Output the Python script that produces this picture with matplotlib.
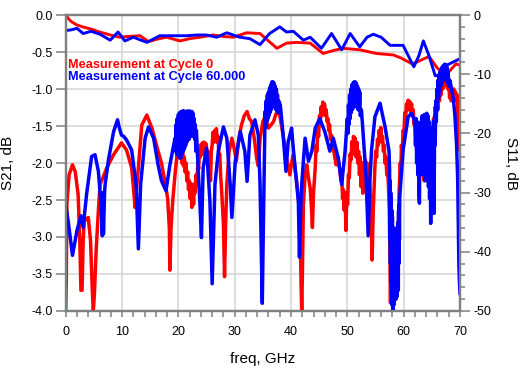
import matplotlib
matplotlib.use("Agg")
import matplotlib.pyplot as plt
from matplotlib.ticker import MultipleLocator, FormatStrFormatter

plt.rcParams['font.family'] = ['Liberation Sans', 'DejaVu Sans']
plt.rcParams['axes.unicode_minus'] = False

# S21, dB (left axis) as (freq GHz, value)
s21_cycle0 = [
    (0, 0.0), (0.5, -0.05), (1.0, -0.09), (2.0, -0.135), (3.0, -0.16), (4.0, -0.18),
    (4.9, -0.2), (6.0, -0.23), (7.0, -0.25), (7.9, -0.27), (9.6, -0.30), (11.0, -0.29),
    (13.2, -0.28), (14.7, -0.36), (16.0, -0.33), (17.9, -0.30), (20.3, -0.35), (22.0, -0.32),
    (23.8, -0.30), (26.2, -0.27), (28.0, -0.29), (29.8, -0.30), (32.1, -0.24), (34.5, -0.25),
    (36.0, -0.35), (37.5, -0.45), (39.2, -0.38), (41.0, -0.37), (43.4, -0.38), (45.7, -0.52),
    (47.5, -0.48), (49.3, -0.45), (52.2, -0.47), (55.2, -0.52), (58.2, -0.54), (59.5, -0.58),
    (61.5, -0.66), (62.5, -0.63), (64.5, -0.56), (66.0, -0.72), (67.0, -0.78), (68.0, -0.77),
    (69.3, -0.66), (70.0, -0.68)]

s21_cycle60 = [
    (0, -0.21), (1.0, -0.2), (2.0, -0.18), (3.1, -0.25), (4.5, -0.22), (6.1, -0.26),
    (7.9, -0.34), (9.3, -0.23), (10.5, -0.35), (12.0, -0.30), (14.4, -0.37), (16.7, -0.28),
    (19.0, -0.28), (21.5, -0.28), (23.3, -0.27), (25.0, -0.27), (26.8, -0.30), (28.6, -0.24),
    (30.9, -0.30), (32.7, -0.32), (34.5, -0.40), (36.2, -0.25), (38.0, -0.16), (39.2, -0.23),
    (40.4, -0.22), (42.2, -0.34), (43.4, -0.30), (45.4, -0.45), (47.2, -0.25), (49.0, -0.47),
    (50.5, -0.25), (52.2, -0.43), (53.5, -0.30), (54.6, -0.26), (56.0, -0.30), (57.6, -0.41),
    (59.9, -0.41), (61.8, -0.70), (62.7, -0.55), (63.5, -0.35), (64.5, -0.55), (65.6, -0.82),
    (66.5, -0.82), (67.6, -0.68), (70.0, -0.59)]

# S11, dB (right axis) as (freq GHz, value)
s11_cycle0 = [
    (0.0, -50), (0.1, -45), (0.2, -32), (0.6, -27), (1.2, -25.3), (1.7, -26.5), (2.2, -30.3),
    (2.5, -38), (2.7, -46.5), (2.9, -46.5), (3.1, -38), (3.3, -34.8), (4.0, -34.2), (4.4, -38),
    (4.7, -46), (4.9, -50), (5.1, -47), (5.4, -39.8), (5.8, -33), (6.1, -28.6), (6.6, -27.5),
    (7.3, -25.8), (8.5, -23.6), (9.9, -21.6), (10.8, -22.8), (11.7, -25.8), (12.1, -30),
    (12.3, -32.5), (12.6, -29), (12.9, -25.8), (13.5, -18.6), (14.4, -16.9), (15.3, -19.1),
    (16.4, -23.0), (17.0, -25), (17.6, -28.1), (18.1, -31), (18.4, -36), (18.5, -43.1),
    (18.7, -36), (19.0, -31.4), (19.4, -27),
    (19.7, -24.2), (19.85, -22.3), (20.0, -24), (20.15, -22), (20.3, -23.8), (20.45, -22.5),
    (20.6, -25), (20.75, -23), (20.9, -25.5), (21.05, -24), (21.2, -26.5), (21.35, -25),
    (21.5, -28), (21.65, -26.5), (21.8, -29.5), (21.95, -28), (22.1, -31), (22.25, -28.5),
    (22.4, -32.5), (22.55, -29), (22.7, -32), (22.85, -28.5), (23.0, -30), (23.15, -27),
    (23.3, -28.5), (23.45, -25), (23.6, -26), (23.75, -23), (23.9, -24), (24.05, -21.8),
    (24.2, -23.5), (24.35, -21.5), (24.5, -23.5), (24.65, -21.5), (24.8, -23), (24.95, -21.8),
    (25.1, -24), (25.25, -23), (25.4, -27), (25.55, -25), (25.7, -28), (25.85, -23),
    (26.0, -22), (26.15, -19.8), (26.3, -21.5), (26.45, -19.5), (26.6, -21), (26.75, -19.2),
    (26.9, -21.5), (27.05, -20.5), (27.2, -24), (27.35, -23.5), (27.5, -27), (27.7, -30),
    (28.0, -35.3), (28.2, -44.2), (28.4, -35), (28.6, -28.6), (29.0, -23), (29.5, -20.8),
    (29.9, -22.5), (30.3, -24.7), (30.7, -21), (31.2, -18.6), (31.7, -17), (32.2, -16.3),
    (32.6, -17.5), (33.0, -18.0), (33.5, -21), (33.9, -24.2), (34.2, -25.5), (34.5, -21),
    (35.0, -18), (35.4, -17.2), (36.0, -19.1), (36.5, -18.5), (36.9, -18.0), (37.3, -16.8),
    (37.6, -16.1), (38.0, -17), (38.3, -18.6), (38.8, -21.5), (39.2, -24.2), (39.8, -27.0),
    (40.1, -25), (40.4, -23.6), (40.7, -26), (41.0, -28.1), (41.4, -32), (41.6, -35.3),
    (41.8, -46), (41.9, -50), (42.0, -45), (42.2, -32.0), (42.5, -27), (42.8, -25.3),
    (43.1, -27.5), (43.4, -29.2), (43.6, -32), (43.8, -35.9), (44.0, -30),
    (44.3, -25.8), (44.45, -22), (44.6, -23), (44.75, -19.5), (44.9, -20.5), (45.05, -17),
    (45.2, -18), (45.35, -15.5), (45.5, -17), (45.65, -14.7), (45.8, -16.5), (45.95, -15),
    (46.1, -17), (46.25, -16), (46.4, -18), (46.55, -17.5), (46.7, -19.5), (46.85, -18.5),
    (47.0, -21), (47.2, -20.3), (47.6, -23), (48.0, -25.3), (48.3, -24),
    (48.7, -26.4), (48.85, -28), (49.0, -27), (49.15, -31), (49.3, -29.5), (49.45, -33),
    (49.6, -30), (49.75, -36.4), (49.9, -31), (50.05, -32), (50.2, -27), (50.35, -27.5),
    (50.5, -23.5), (50.65, -24.5), (50.8, -21.4), (50.95, -23.5), (51.1, -20.5), (51.25, -23),
    (51.4, -20.8), (51.55, -24), (51.7, -21.5), (51.85, -25), (52.0, -23), (52.15, -27),
    (52.3, -24), (52.45, -29), (52.6, -25), (52.75, -30.1), (52.9, -25.5), (53.05, -28),
    (53.2, -24.5), (53.35, -27), (53.5, -25), (53.65, -28.5), (53.8, -27), (54.0, -29),
    (54.2, -33), (54.4, -41.4), (54.6, -33), (54.9, -25.6),
    (55.05, -23), (55.2, -24), (55.35, -21), (55.5, -22), (55.65, -19.5), (55.8, -20.5),
    (55.95, -19), (56.1, -21.5), (56.25, -20.5), (56.4, -23), (56.55, -22), (56.7, -25),
    (56.85, -24), (57.0, -27), (57.15, -26), (57.3, -29), (57.45, -33), (57.55, -40),
    (57.65, -48.6), (57.8, -42), (57.9, -36), (58.0, -44), (58.1, -38), (58.2, -46),
    (58.3, -39), (58.4, -45), (58.5, -39.7), (58.6, -44), (58.7, -46), (58.8, -47.6),
    (59.0, -38), (59.2, -29.6), (59.4, -25), (59.5, -27), (59.6, -22), (59.75, -23.5),
    (59.9, -19.5), (60.05, -20), (60.2, -16.5), (60.35, -17.5), (60.5, -15), (60.65, -16),
    (60.8, -14.4), (60.95, -16), (61.1, -14.6), (61.25, -16.5), (61.4, -15), (61.55, -17),
    (61.7, -16), (61.85, -18.5), (62.0, -17.5), (62.15, -21), (62.3, -18.5), (62.45, -23),
    (62.6, -19.5), (62.75, -25), (62.9, -20.5), (63.05, -26), (63.2, -21.5), (63.35, -27),
    (63.5, -22), (63.65, -28), (63.8, -22.5), (63.95, -27.5), (64.1, -22), (64.25, -27),
    (64.4, -21.5), (64.55, -26), (64.7, -21), (64.85, -24), (65.0, -19.5), (65.15, -22),
    (65.3, -17.5), (65.45, -19.5), (65.6, -15.5), (65.75, -17.5), (65.9, -14), (66.05, -16),
    (66.2, -12.5), (66.35, -14.5), (66.5, -11.5), (66.65, -13.5), (66.8, -10.5), (66.95, -12.5),
    (67.1, -10), (67.25, -12), (67.4, -9.5), (67.55, -11.5), (67.7, -9.8), (67.85, -12.5),
    (68.0, -11), (68.15, -14), (68.3, -12), (68.45, -14.5), (68.6, -12.5), (68.75, -14),
    (68.9, -12.5), (69.05, -14.5), (69.2, -13), (69.35, -14), (69.5, -13.5), (69.6, -17),
    (69.7, -20), (69.85, -22), (70.0, -22.8)]

s11_cycle60 = [
    (0.0, -32.0), (0.5, -35.3), (1.2, -40.6), (2.0, -36.4), (2.7, -33.9), (3.1, -35.9),
    (3.7, -30.3), (4.6, -23.9), (5.2, -23.6), (5.8, -26.4), (6.3, -32.5), (6.5, -37.3),
    (6.6, -30), (6.7, -37), (6.9, -30), (7.0, -28.6), (7.6, -24.4), (8.5, -19.7), (9.2, -17.7),
    (9.5, -19), (9.9, -20.3), (10.3, -20.5), (10.8, -21.1), (11.7, -22.8), (12.5, -28.6),
    (12.9, -39.5), (13.3, -28.6), (14.1, -20.8), (14.7, -18.9), (15.6, -20.8), (16.4, -25.3),
    (17.0, -28), (17.8, -29.7), (18.5, -25.3),
    (19.4, -20.8), (19.5, -23), (19.6, -18.5), (19.7, -23.5), (19.8, -17.5), (19.9, -23.5),
    (20.0, -16.8), (20.1, -24), (20.2, -16.5), (20.3, -24.2), (20.4, -16.4), (20.5, -24),
    (20.6, -16.3), (20.7, -23.5), (20.8, -16.2), (20.9, -23), (21.0, -16.2), (21.1, -22.5),
    (21.2, -16.5), (21.3, -22), (21.4, -16.3), (21.5, -21.5), (21.6, -16.2), (21.7, -21),
    (21.8, -16.4), (21.9, -21), (22.0, -16.2), (22.1, -20.5), (22.2, -16.5), (22.3, -20.5),
    (22.4, -16.3), (22.5, -20), (22.6, -16.6), (22.7, -20.5), (22.8, -17.5), (22.9, -21),
    (23.0, -18.5), (23.1, -23), (23.2, -19.5),
    (23.5, -25.8), (23.8, -31.4), (24.1, -37.6), (24.4, -25.8), (25.0, -22.5), (25.6, -31.4),
    (26.0, -45.4), (26.5, -28.6), (27.1, -23.0), (28.0, -18.9), (28.6, -20.8), (29.2, -28.6),
    (29.5, -34.2), (30.1, -24.7), (31.0, -19.7), (31.8, -23.0), (32.2, -28.1), (32.7, -20.3),
    (33.6, -17.7), (34.2, -20.3), (34.5, -28.6), (34.9, -48.7), (35.1, -35),
    (35.4, -16.3), (35.5, -19), (35.6, -14.5), (35.7, -18), (35.8, -13.5), (35.9, -17.5),
    (36.0, -13), (36.1, -17), (36.2, -12.3), (36.3, -16.5), (36.4, -11.8), (36.5, -16),
    (36.6, -11.3), (36.7, -15.5), (36.8, -11.3), (36.9, -15.5), (37.0, -11.5), (37.1, -15.5),
    (37.2, -12), (37.3, -16), (37.4, -12.5), (37.5, -16), (37.6, -13.5), (37.7, -16.5),
    (37.8, -14.5), (38.1, -15.2),
    (38.6, -20.3), (39.1, -26.4), (39.5, -21.4), (40.1, -19.1), (40.4, -22.5), (40.9, -27.5),
    (41.3, -31.4), (41.5, -40.9), (41.7, -33), (41.9, -28.6), (42.5, -20.8), (43.1, -24.7),
    (43.7, -23.0), (44.3, -19.1), (45.1, -17.5), (46.0, -19.7), (46.9, -23.0), (47.5, -20.8),
    (48.4, -24.2), (49.0, -28.6), (49.6, -23.0),
    (50.0, -17.5), (50.1, -20), (50.2, -15.2), (50.3, -18.5), (50.4, -13.5), (50.5, -17.5),
    (50.6, -12.5), (50.7, -16.5), (50.8, -11.8), (50.9, -16), (51.0, -11.5), (51.1, -15.5),
    (51.2, -11.3), (51.3, -15.5), (51.4, -11.3), (51.5, -15), (51.6, -11.5), (51.7, -15.5),
    (51.8, -12), (51.9, -16), (52.0, -12.5), (52.1, -16), (52.2, -13), (52.3, -17),
    (52.5, -16), (52.8, -20), (53.3, -27), (53.7, -37.3), (54.0, -28), (54.3, -22.8),
    (54.9, -17.2), (55.8, -14.9), (56.7, -18.9), (57.4, -23),
    (57.5, -26), (57.55, -38), (57.6, -28), (57.65, -42), (57.7, -30), (57.75, -45),
    (57.8, -31), (57.85, -47), (57.9, -33), (57.95, -49), (58.0, -34), (58.05, -50),
    (58.1, -36), (58.15, -50), (58.2, -37), (58.25, -49), (58.3, -38), (58.35, -47),
    (58.4, -37), (58.45, -48), (58.5, -36), (58.55, -46), (58.6, -37), (58.65, -48),
    (58.7, -38), (58.75, -47), (58.8, -37), (58.85, -47.5), (58.9, -36), (58.95, -46),
    (59.0, -35), (59.05, -46.5), (59.1, -33), (59.15, -42), (59.2, -32), (59.25, -38),
    (59.3, -31), (59.35, -30.1),
    (59.9, -22.8), (60.8, -17.2), (61.4, -16.6), (61.8, -17.5), (62.0, -18.3), (62.1, -22),
    (62.2, -17.5), (62.3, -25), (62.4, -18), (62.5, -27), (62.6, -19), (62.7, -30),
    (62.8, -31.8), (62.9, -20), (63.0, -26), (63.1, -18), (63.2, -24), (63.3, -17),
    (63.4, -27), (63.5, -17.5), (63.6, -25), (63.7, -16.8), (63.8, -28), (63.9, -17),
    (64.0, -24), (64.1, -16.6), (64.2, -26), (64.3, -17), (64.4, -29), (64.5, -18),
    (64.6, -31), (64.7, -22), (64.8, -35.2), (64.9, -20), (65.0, -28), (65.1, -19),
    (65.2, -30), (65.3, -18), (65.4, -33.5), (65.5, -17), (65.6, -22), (65.7, -14.5),
    (65.8, -18), (65.9, -12.5), (66.0, -16), (66.1, -11), (66.2, -14), (66.3, -10),
    (66.4, -13), (66.5, -9.5), (66.6, -12), (66.7, -9), (66.8, -11.5), (66.9, -8.7),
    (67.0, -11), (67.1, -8.5), (67.2, -10.5), (67.3, -8.3), (67.4, -10.5), (67.5, -8.4),
    (67.6, -11), (67.7, -8.8), (67.8, -11.5), (67.9, -9.5), (68.0, -12), (68.2, -11),
    (68.5, -12.5), (68.8, -14), (69.1, -17), (69.4, -22), (69.6, -28), (69.8, -42),
    (69.9, -45), (70.0, -47)]

labels = ["Measurement at Cycle 0", "Measurement at Cycle 60.000"]
colors = ["#ff0000", "#0000ff"]

fig = plt.figure(figsize=(5.22, 3.69), dpi=100)
ax = fig.add_axes([0.1259, 0.1572, 0.7553, 0.8021])
ax2 = ax.twinx()

for data, c, lab in zip([s21_cycle0, s21_cycle60], colors, labels):
    f, v = zip(*data)
    ax.plot(f, v, color=c, lw=2.1, label=lab)
for data, c in zip([s11_cycle0, s11_cycle60], colors):
    f, v = zip(*data)
    ax2.plot(f, v, color=c, lw=2.5)

ax.set_xlim(0, 70)
ax.set_ylim(-4.0, 0.0)
ax2.set_ylim(-50, 0)

ax.xaxis.set_major_locator(MultipleLocator(10))
ax.xaxis.set_minor_locator(MultipleLocator(2))
ax.yaxis.set_major_locator(MultipleLocator(0.5))
ax.yaxis.set_major_formatter(FormatStrFormatter('%.1f'))
ax2.yaxis.set_major_locator(MultipleLocator(10))
ax2.yaxis.set_minor_locator(MultipleLocator(2))

ax.grid(True, which='major', color='#d4d4d4', lw=1.1)
ax.set_axisbelow(True)

spine_col = '#808080'
for a in (ax, ax2):
    for s in a.spines.values():
        s.set_color(spine_col)
        s.set_linewidth(1.6)

ax.tick_params(axis='x', which='both', direction='out', length=4.5, width=1.1,
               color=spine_col, labelsize=9, pad=6)
ax.tick_params(axis='y', which='major', direction='out', length=7.5, width=1.1,
               color=spine_col, labelsize=9, pad=2)
ax2.tick_params(axis='y', which='major', direction='out', length=7.5, width=1.1,
                color=spine_col, labelsize=9, pad=2)
ax2.tick_params(axis='y', which='minor', direction='out', length=3.8, width=1.1,
                color=spine_col)

ax.set_xlabel("freq, GHz", fontsize=11)
ax.xaxis.set_label_coords(0.5, -0.14)
ax.set_ylabel("S21, dB", fontsize=11)
ax.yaxis.set_label_coords(-0.128, 0.5)
ax2.set_ylabel("S11, dB", fontsize=11, rotation=-90, va='bottom')
ax2.yaxis.set_label_coords(1.112, 0.5)

leg = ax.legend(loc='upper left', bbox_to_anchor=(0.006, 0.853), frameon=False,
                handlelength=0, handletextpad=0, borderpad=0, borderaxespad=0,
                labelspacing=0.05, labelcolor='linecolor',
                prop={'weight': 'bold', 'size': 9.2})

fig.savefig("out.png", dpi=100)
